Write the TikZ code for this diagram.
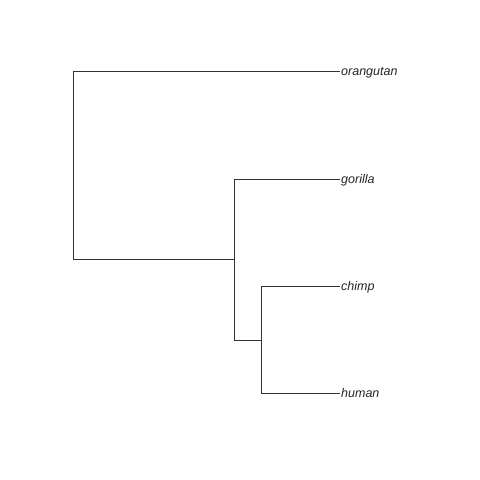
\documentclass[tikz,border=0pt]{standalone}
\usepackage{fontspec}
\setmainfont{Liberation Sans}
\begin{document}
\begin{tikzpicture}[x=1pt,y=-1pt,
  edge/.style={draw=black!80,line width=0.9pt},
  leaf/.style={anchor=base west,inner sep=0pt,font=\fontsize{12.5}{14}\selectfont\itshape,text=black!85}]
\useasboundingbox[fill=white] (0,0) rectangle (480,480);
\coordinate (root) at (73,259);
\coordinate (rt) at (73,71);
\coordinate (n1) at (234,259);
\coordinate (n1t) at (234,179);
\coordinate (n1b) at (234,340);
\coordinate (n2) at (261,340);
\coordinate (n2t) at (261,286);
\coordinate (n2b) at (261,393);
\coordinate (lo) at (340,71);
\coordinate (lg) at (340,179);
\coordinate (lc) at (340,286);
\coordinate (lh) at (340,393);
\node[leaf] (orangutan) at (341,75.5) {orangutan};
\node[leaf] (gorilla) at (341,183.5) {gorilla};
\node[leaf] (chimp) at (341,290.5) {chimp};
\node[leaf] (human) at (341,397.5) {human};
\draw[edge] (lo) -- (rt) -- (root) -- (n1);
\draw[edge] (lg) -- (n1t) -- (n1b) -- (n2);
\draw[edge] (lc) -- (n2t) -- (n2b) -- (lh);
\end{tikzpicture}
\end{document}
